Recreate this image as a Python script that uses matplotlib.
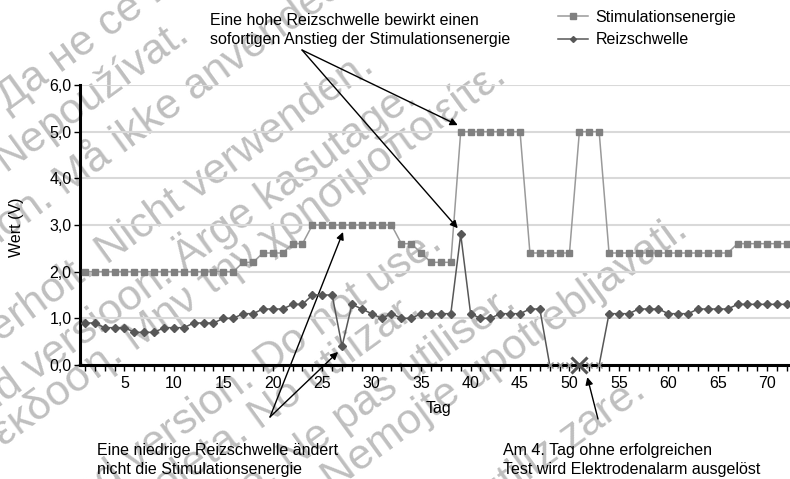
import numpy as np
import matplotlib
matplotlib.use("Agg")
import matplotlib.pyplot as plt
from matplotlib.lines import Line2D
from matplotlib.ticker import FuncFormatter, MultipleLocator

plt.rcParams['font.family'] = ['Liberation Sans', 'DejaVu Sans']

# Data
days = np.arange(1, 73)
stim = [2.0, 2.0, 2.0, 2.0, 2.0, 2.0, 2.0, 2.0, 2.0, 2.0, 2.0, 2.0, 2.0, 2.0, 2.0, 2.0,
        2.2, 2.2, 2.4, 2.4, 2.4, 2.6, 2.6,
        3.0, 3.0, 3.0, 3.0, 3.0, 3.0, 3.0, 3.0, 3.0,
        2.6, 2.6, 2.4, 2.2, 2.2, 2.2,
        5.0, 5.0, 5.0, 5.0, 5.0, 5.0, 5.0,
        2.4, 2.4, 2.4, 2.4, 2.4,
        5.0, 5.0, 5.0,
        2.4, 2.4, 2.4, 2.4, 2.4, 2.4, 2.4, 2.4, 2.4, 2.4, 2.4, 2.4, 2.4,
        2.6, 2.6, 2.6, 2.6, 2.6, 2.6]
reiz = [0.9, 0.9, 0.8, 0.8, 0.8, 0.7, 0.7, 0.7, 0.8, 0.8, 0.8, 0.9, 0.9, 0.9, 1.0, 1.0,
        1.1, 1.1, 1.2, 1.2, 1.2, 1.3, 1.3, 1.5, 1.5, 1.5, 0.4, 1.3, 1.2, 1.1, 1.0, 1.1,
        1.0, 1.0, 1.1, 1.1, 1.1, 1.1, 2.8, 1.1, 1.0, 1.0, 1.1, 1.1, 1.1, 1.2, 1.2,
        0.0, 0.0, 0.0, 0.0, 0.0, 0.0,
        1.1, 1.1, 1.1, 1.2, 1.2, 1.2, 1.1, 1.1, 1.1, 1.2, 1.2, 1.2, 1.2,
        1.3, 1.3, 1.3, 1.3, 1.3, 1.3]
failed_days = [48, 49, 50, 52, 53]
alarm_day = 51

stim = np.array(stim)
reiz = np.array(reiz)
ok = ~np.isin(days, failed_days + [alarm_day])

W, H = 790, 479
fig = plt.figure(figsize=(W / 100, H / 100), dpi=100)
ax = fig.add_axes([80 / W, 1 - 365 / H, 710 / W, 280 / H])
ax.set_facecolor('none')

def px(x, y):
    # pixel position (top-left origin) -> figure fraction
    return x / W, 1 - y / H

# Watermark (light grey rotated text)
ANG = 36
WM = '#bfbfbf'
c, s = np.cos(np.radians(ANG)), np.sin(np.radians(ANG))
watermark = [
    ("Остаряла версия.", "Да не се използва.", 8, 112),
    ("Zastaralá verze.", "Nepoužívat.", 5, 172),
    ("Forældet version.", "Må ikke anvendes.", 65, 196),
    ("Version überholt.", "Nicht verwenden.", 107, 265),
    ("Aegunud versioon.", "Ärge kasutage.", 185, 272),
    ("Παλιά έκδοση.", "Μην την χρησιμοποιείτε.", 135, 352),
    ("Outdated version.", "Do not use.", 266, 376),
    ("Versión obsoleta.", "No utilizar.", 260, 430),
    ("Version périmée.", "Ne pas utiliser.", 290, 472),
    ("Zastarjela verzija. Nemojte", "upotrebljavati.", 473, 390),
    ("Versione obsoleta. Non utiliz", "zare.", 570, 450),
]
kw = dict(rotation=ANG, rotation_mode='anchor', fontsize=31, color=WM,
          va='baseline', zorder=-1)
for prefix, phrase, x, y in watermark:
    fig.text(*px(x, y), phrase, ha='left', **kw)
    gap = 12
    fig.text(*px(x - gap * c, y + gap * s), prefix, ha='right', **kw)

# Series
stim_col = '#808080'
reiz_col = '#575757'
ax.plot(days, stim, color='#9a9a9a', lw=1.1, marker='s', markersize=5,
        markerfacecolor=stim_col, markeredgecolor=stim_col, zorder=3, clip_on=False)
ax.plot(days, reiz, color=reiz_col, lw=1.1, zorder=4, clip_on=False)
ax.plot(days[ok], reiz[ok], ls='none', marker='D', markersize=4,
        markerfacecolor=reiz_col, markeredgecolor=reiz_col, zorder=4, clip_on=False)
ax.plot(failed_days, np.zeros(len(failed_days)), ls='none', marker='x', markersize=5,
        markeredgecolor='#8a8a8a', mew=1, zorder=6, clip_on=False)
ax.plot([alarm_day], [0], ls='none', marker='x', markersize=11,
        markeredgecolor='#555555', mew=2.2, zorder=7, clip_on=False)

# Axes styling
ax.set_xlim(0.5, 72.3)
ax.set_ylim(0, 6)
for sp in ['top', 'right']:
    ax.spines[sp].set_visible(False)
ax.spines['left'].set_linewidth(2.2)
ax.spines['bottom'].set_linewidth(2.2)
ax.spines['bottom'].set_zorder(5)
ax.yaxis.grid(True, color='#d9d9d9', lw=1.5)
ax.set_axisbelow(True)
ax.xaxis.set_major_locator(MultipleLocator(5))
ax.xaxis.set_minor_locator(MultipleLocator(1))
ax.yaxis.set_major_locator(MultipleLocator(1))
ax.yaxis.set_major_formatter(FuncFormatter(lambda v, p: f"{v:.1f}".replace('.', ',')))
ax.tick_params(axis='x', which='both', direction='out', length=4, width=1, labelsize=11.5, pad=4)
ax.tick_params(axis='y', direction='out', length=4, width=1, labelsize=11.5, pad=2)

ax.set_xlabel('Tag', fontsize=11.5)
ax.xaxis.set_label_coords((438 - 80) / 710, (365 - 408) / 280)
ax.xaxis.label.set_va('center')
ax.set_ylabel('Wert (V)', fontsize=11.5)
ax.yaxis.set_label_coords((17 - 80) / 710, (365 - 227) / 280)
ax.yaxis.label.set_va('center')

# Legend
handles = [
    Line2D([], [], color='#9a9a9a', lw=1.1, marker='s', markersize=4,
           markerfacecolor=stim_col, markeredgecolor=stim_col),
    Line2D([], [], color=reiz_col, lw=1.1, marker='D', markersize=3,
           markerfacecolor=reiz_col, markeredgecolor=reiz_col),
]
fig.legend(handles, ['Stimulationsenergie', 'Reizschwelle'], loc='upper left',
           bbox_to_anchor=px(558, 10), frameon=False, fontsize=11.5,
           handlelength=1.9, handletextpad=0.45, labelspacing=0.45,
           borderpad=0, borderaxespad=0)

# Annotations
txt = dict(fontsize=11.5, ha='left', va='center', linespacing=1.3)
fig.text(*px(210, 30), "Eine hohe Reizschwelle bewirkt einen\nsofortigen Anstieg der Stimulationsenergie", **txt)
fig.text(*px(97, 460), "Eine niedrige Reizschwelle ändert\nnicht die Stimulationsenergie", **txt)
fig.text(*px(503, 460), "Am 4. Tag ohne erfolgreichen\nTest wird Elektrodenalarm ausgelöst", **txt)

arrow = dict(arrowstyle='-|>', color='black', lw=1, mutation_scale=11,
             shrinkA=0, shrinkB=0)
targets = [((302, 50), (38.7, 5.14)),
           ((302, 50), (38.7, 2.93)),
           ((270, 417), (27.1, 2.85)),
           ((270, 417), (26.6, 0.28)),
           ((598, 419), (51.8, -0.26))]
for start, end in targets:
    ax.annotate('', xy=end, xycoords='data', xytext=px(*start),
                textcoords='figure fraction', arrowprops=arrow,
                annotation_clip=False)

fig.savefig('out.png', dpi=100)
